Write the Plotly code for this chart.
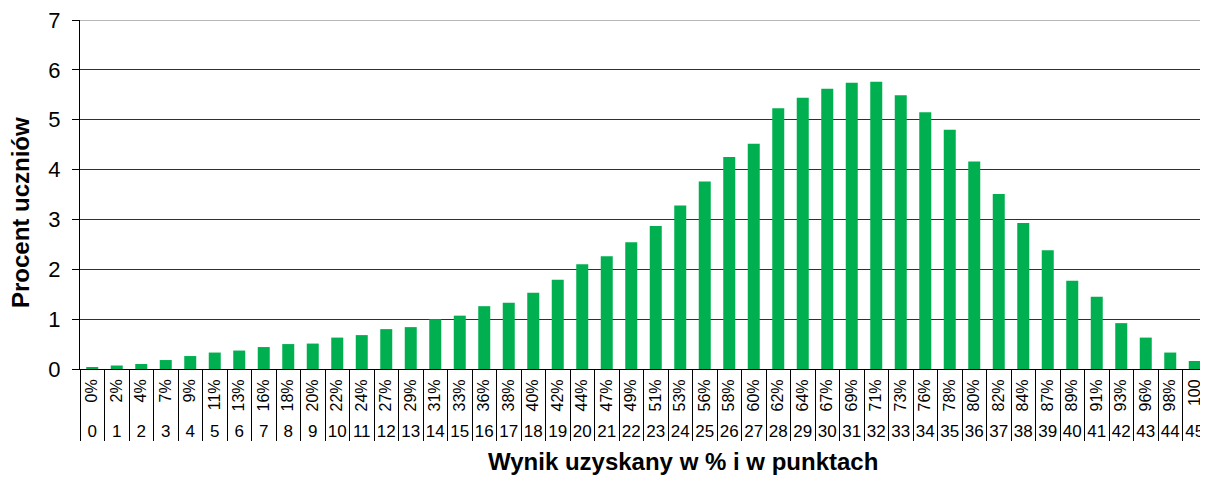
import plotly.graph_objects as go

points = list(range(46))
percent_labels = ["0%", "2%", "4%", "7%", "9%", "11%", "13%", "16%", "18%", "20%",
                  "22%", "24%", "27%", "29%", "31%", "33%", "36%", "38%", "40%", "42%",
                  "44%", "47%", "49%", "51%", "53%", "56%", "58%", "60%", "62%", "64%",
                  "67%", "69%", "71%", "73%", "76%", "78%", "80%", "82%", "84%", "87%",
                  "89%", "91%", "93%", "96%", "98%", "100"]
values = [0.04, 0.07, 0.10, 0.18, 0.26, 0.33, 0.37, 0.44, 0.50, 0.51,
          0.63, 0.68, 0.80, 0.84, 1.00, 1.07, 1.26, 1.33, 1.53, 1.79,
          2.10, 2.26, 2.54, 2.87, 3.28, 3.76, 4.25, 4.52, 5.23, 5.44,
          5.62, 5.74, 5.76, 5.49, 5.15, 4.80, 4.16, 3.51, 2.93, 2.38,
          1.77, 1.45, 0.92, 0.63, 0.33, 0.16]
y_ticks = [0, 1, 2, 3, 4, 5, 6, 7]

FONT = "Liberation Sans, Arial, sans-serif"

# page body has an 8px default margin; figure sized to fit the 1208x477 window
W, H = 1200, 469
ML, MR, MT, MB = 72, 1, 12, 40
PW, PH = W - ML - MR, H - MT - MB


def px_x(x):
    return (x - 8 - ML) / PW


def px_y(y):
    return (H - MB - (y - 8)) / PH


fig = go.Figure()
fig.add_trace(go.Bar(x=points, y=values, marker=dict(color="#00B050", line=dict(width=0)),
                     width=0.49, hoverinfo="skip"))
fig.add_trace(go.Scatter(x=points, y=values, xaxis="x2", mode="markers",
                         marker=dict(opacity=0), hoverinfo="skip", showlegend=False))

fig.update_layout(
    width=W, height=H,
    margin=dict(l=ML, r=MR, t=MT, b=MB, pad=0),
    plot_bgcolor="white", paper_bgcolor="white",
    showlegend=False,
    font=dict(family=FONT, color="black"),
    xaxis=dict(
        range=[-0.5, 45.5], tickmode="array", tickvals=points, ticktext=percent_labels,
        tickangle=-90, tickfont=dict(size=16, family=FONT, color="black"),
        showline=True, linecolor="black", linewidth=1,
        ticks="", showgrid=False, zeroline=False, ticklabelstandoff=3,
        minor=dict(tick0=-0.5, dtick=1, ticks="outside", ticklen=71, tickcolor="black", tickwidth=1),
        anchor="y", automargin=False, ticklabeloverflow="allow",
    ),
    xaxis2=dict(
        range=[-0.5, 45.5], tickmode="array", tickvals=points, ticktext=[str(p) for p in points],
        tickfont=dict(size=17, family=FONT, color="black"),
        overlaying="x", anchor="free", position=px_y(419), side="bottom",
        showline=False, ticks="", showgrid=False, zeroline=False, automargin=False,
        ticklabeloverflow="allow",
    ),
    yaxis=dict(
        domain=[px_y(369), 1], range=[0, 7], tickmode="array", tickvals=y_ticks,
        tickfont=dict(size=22, family=FONT, color="black"),
        showline=True, linecolor="black", linewidth=1,
        ticks="outside", ticklen=7, tickcolor="black",
        showgrid=True, gridcolor="#303030", gridwidth=1, zeroline=False,
        ticklabelstandoff=7, automargin=False, ticklabeloverflow="allow",
    ),
    shapes=[
        dict(type="line", xref="paper", yref="y", x0=0, x1=1, y0=y_ticks[-1], y1=y_ticks[-1],
             line=dict(color="#a0a0a0", width=1.5)),
    ],
    annotations=[
        dict(text="<b>Procent uczniów</b>", xref="paper", yref="paper",
             x=px_x(20), y=px_y(213), xanchor="center", yanchor="middle",
             textangle=-90, showarrow=False, font=dict(size=24, family=FONT, color="black")),
        dict(text="<b>Wynik uzyskany w % i w punktach</b>", xref="paper", yref="paper",
             x=px_x(683), y=px_y(461), xanchor="center", yanchor="middle",
             showarrow=False, font=dict(size=24, family=FONT, color="black")),
    ],
)

fig.write_html("out.html")
